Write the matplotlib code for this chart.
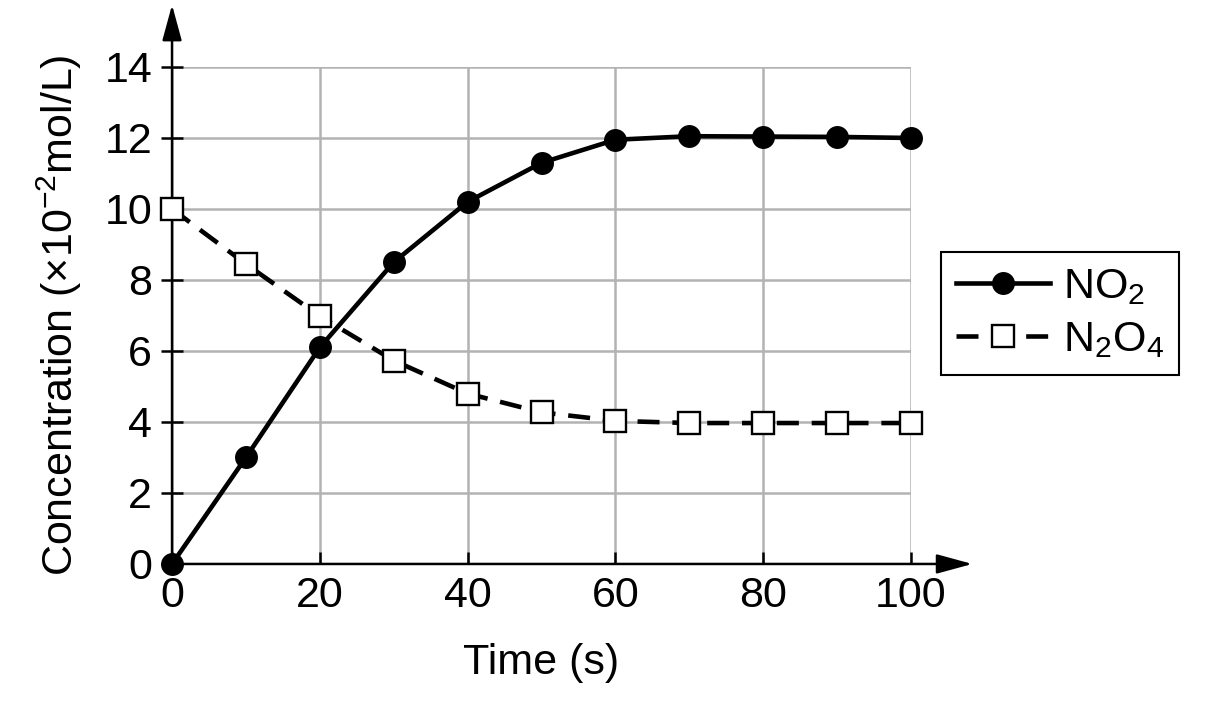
import matplotlib
matplotlib.use("Agg")
import matplotlib.pyplot as plt

# values
time_s = [0, 10, 20, 30, 40, 50, 60, 70, 80, 90, 100]
no2 = [0.0, 3.0, 6.1, 8.5, 10.2, 11.3, 11.95, 12.05, 12.04, 12.03, 12.0]
n2o4 = [10.0, 8.45, 6.98, 5.73, 4.8, 4.27, 4.03, 3.97, 3.97, 3.97, 3.97]
x_ticks = [0, 20, 40, 60, 80, 100]
y_ticks = [0, 2, 4, 6, 8, 10, 12, 14]

plt.rcParams['font.family'] = ['Liberation Sans', 'DejaVu Sans']
plt.rcParams['mathtext.fontset'] = 'custom'
plt.rcParams['mathtext.rm'] = 'Liberation Sans'
plt.rcParams['mathtext.default'] = 'regular'

fs = 31
fig = plt.figure(figsize=(12.09, 7.11), dpi=100)
ax = fig.add_axes([0.1423, 0.2068, 0.6112, 0.699])

ax.set_xlim(0, 100)
ax.set_ylim(0, 14)
for s in ax.spines.values():
    s.set_visible(False)

ax.grid(True, color='#b3b3b3', linewidth=1.8)
ax.set_axisbelow(True)

ax.set_xticks(x_ticks)
ax.set_yticks(y_ticks)
ax.tick_params(axis='x', direction='in', length=8.5, width=1.8, pad=9,
               labelsize=fs)
ax.tick_params(axis='y', direction='inout', length=16.5, width=1.8, pad=6,
               labelsize=fs)

# axis lines with arrow heads
arrow = dict(arrowstyle='-|>,head_length=1.1,head_width=0.3',
             mutation_scale=20, color='black', linewidth=1.8,
             shrinkA=0, shrinkB=0)
ax.annotate('', xy=(0, 15.75), xytext=(0, 0), arrowprops=arrow,
            annotation_clip=False)
ax.annotate('', xy=(108.3, 0), xytext=(0, 0), arrowprops=arrow,
            annotation_clip=False)

ax.plot(time_s, no2, color='black', linewidth=3.3, marker='o',
        markersize=15.5, clip_on=False, zorder=3, label='NO$_2$')
ax.plot(time_s, n2o4, color='black', linewidth=3.3, linestyle=(0, (4.8, 2.8)),
        marker='s', markersize=15.5, markerfacecolor='white',
        markeredgecolor='black', markeredgewidth=1.7, clip_on=False,
        zorder=3, label='N$_2$O$_4$')

ax.set_xlabel('Time (s)', fontsize=fs, labelpad=19)
ax.set_ylabel('Concentration (×10$^{−2}$mol/L)', fontsize=fs, labelpad=15)

leg = ax.legend(loc='upper left', bbox_to_anchor=(0.778, 0.6456),
                bbox_transform=fig.transFigure, borderaxespad=0,
                fontsize=fs, fancybox=False, framealpha=1,
                edgecolor='black', handlelength=2.2, handletextpad=0.3,
                borderpad=0.35, labelspacing=0.3)
leg.get_frame().set_linewidth(1.5)

fig.savefig('out.png', dpi=100)
